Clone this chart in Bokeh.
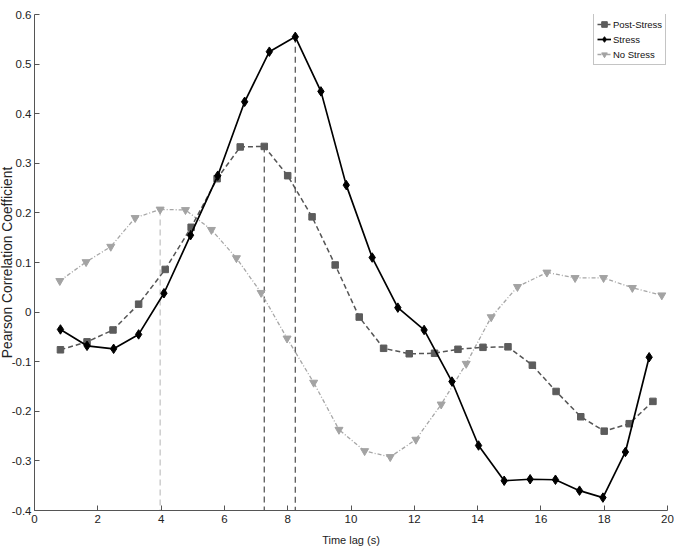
from bokeh.plotting import figure
from bokeh.models import Range1d, FixedTicker, Legend, LegendItem, ColumnDataSource
from bokeh.embed import file_html
from bokeh.resources import INLINE

# ---- data ----
post_x = [0.82, 1.66, 2.48, 3.29, 4.13, 4.95, 5.77, 6.50, 7.26, 8.00, 8.77, 9.50, 10.26,
          11.03, 11.84, 12.64, 13.38, 14.17, 14.96, 15.73, 16.48, 17.26, 18.00, 18.79, 19.54]
post_y = [-0.076, -0.060, -0.036, 0.016, 0.086, 0.171, 0.269, 0.333, 0.334, 0.275, 0.192, 0.095, -0.010,
          -0.073, -0.084, -0.083, -0.075, -0.071, -0.070, -0.107, -0.160, -0.211, -0.240, -0.225, -0.180]

stress_x = [0.82, 1.66, 2.50, 3.29, 4.09, 4.93, 5.79, 6.64, 7.42, 8.24, 9.05, 9.85,
            10.67, 11.48, 12.31, 13.19, 14.03, 14.84, 15.66, 16.46, 17.22, 17.96, 18.67, 19.42]
stress_y = [-0.035, -0.068, -0.074, -0.045, 0.038, 0.155, 0.275, 0.424, 0.525, 0.555, 0.445, 0.256,
            0.110, 0.009, -0.036, -0.140, -0.269, -0.340, -0.337, -0.338, -0.360, -0.374, -0.282, -0.091]

nostress_x = [0.80, 1.63, 2.41, 3.18, 3.97, 4.77, 5.59, 6.38, 7.16, 7.98, 8.82, 9.62,
              10.43, 11.24, 12.05, 12.85, 13.64, 14.43, 15.26, 16.19, 17.08, 17.98, 18.89, 19.82]
nostress_y = [0.063, 0.101, 0.132, 0.190, 0.207, 0.206, 0.166, 0.109, 0.039, -0.053, -0.142, -0.237,
              -0.280, -0.292, -0.257, -0.186, -0.104, -0.010, 0.051, 0.080, 0.069, 0.069, 0.049, 0.034]

# peak markers (vertical dashed lines): No Stress, Post-Stress, Stress
peak_x = [3.97, 7.26, 8.24]
peak_y = [0.207, 0.334, 0.555]
peak_colors = ["#c4c4c4", "#5a5a5a", "#5a5a5a"]

x_ticks = [0, 2, 4, 6, 8, 10, 12, 14, 16, 18, 20]
y_ticks = [-0.4, -0.3, -0.2, -0.1, 0.0, 0.1, 0.2, 0.3, 0.4, 0.5, 0.6]
y_tick_labels = ["-0.4", "-0.3", "-0.2", "-0.1", "0", "0.1", "0.2", "0.3", "0.4", "0.5", "0.6"]

X_MIN, X_MAX = 0, 20
Y_MIN, Y_MAX = -0.4, 0.6

FONT = "Liberation Sans"

p = figure(width=680, height=548, output_backend="svg", toolbar_location=None,
           x_range=Range1d(X_MIN, X_MAX), y_range=Range1d(Y_MIN, Y_MAX),
           min_border_left=40, min_border_top=14, min_border_right=7, min_border_bottom=38)
p.margin = (0, 0, 0, -6)
p.outline_line_color = None
p.background_fill_color = "white"
p.border_fill_color = "white"
p.xgrid.visible = False
p.ygrid.visible = False

for ax in (p.xaxis[0], p.yaxis[0]):
    ax.axis_line_color = "#555555"
    ax.major_tick_line_color = "#555555"
    ax.major_tick_in = 5
    ax.major_tick_out = 0
    ax.minor_tick_line_color = None
    ax.major_label_text_font = FONT
    ax.major_label_text_font_size = "11.5px"
    ax.major_label_text_color = "#222222"
    ax.axis_label_text_color = "#222222"
    ax.axis_label_text_font_style = "normal"

p.xaxis.ticker = FixedTicker(ticks=x_ticks)
p.yaxis.ticker = FixedTicker(ticks=y_ticks)
p.yaxis.major_label_overrides = {t: l for t, l in zip(y_ticks, y_tick_labels)}
p.xaxis.axis_label = "Time lag (s)"
p.xaxis.axis_label_text_font = FONT
p.xaxis.axis_label_text_font_size = "11px"
p.xaxis.major_label_standoff = 4
p.xaxis.axis_label_standoff = 8
p.yaxis.axis_label = "Pearson Correlation Coefficient"
p.yaxis.axis_label_text_font = FONT
p.yaxis.axis_label_text_font_size = "13.8px"
p.yaxis.major_label_standoff = 3
p.yaxis.axis_label_standoff = -6

# vertical dashed peak lines
vsrc = ColumnDataSource(dict(x=peak_x, y0=peak_y, y1=[Y_MIN] * len(peak_x), c=peak_colors))
p.segment(x0="x", y0="y0", x1="x", y1="y1", source=vsrc, line_color="c",
          line_dash="6 4", line_width=1.3)

# No Stress
ns_line = p.line(nostress_x, nostress_y, line_color="#a6a6a6", line_width=1.3, line_dash="4 2 1 2")
ns_mark = p.scatter(nostress_x, nostress_y, marker="inverted_triangle", size=8,
                    fill_color="#a3a3a3", line_color="#a3a3a3")
# Post-Stress
ps_line = p.line(post_x, post_y, line_color="#555555", line_width=1.5, line_dash="5 3")
ps_mark = p.scatter(post_x, post_y, marker="square", size=6.5,
                    fill_color="#5c5c5c", line_color="#5c5c5c")
# Stress
st_line = p.line(stress_x, stress_y, line_color="#000000", line_width=1.7)
st_mark = p.scatter(stress_x, stress_y, marker="diamond", size=9.5,
                    fill_color="#000000", line_color="#000000")

legend = Legend(items=[
    LegendItem(label="Post-Stress", renderers=[ps_line, ps_mark]),
    LegendItem(label="Stress", renderers=[st_line, st_mark]),
    LegendItem(label="No Stress", renderers=[ns_line, ns_mark]),
], location=(559, 445))
legend.margin = 0
legend.padding = 3
legend.spacing = 1
legend.glyph_width = 14
legend.glyph_height = 14
legend.label_height = 14
legend.label_standoff = 2
legend.label_text_font = FONT
legend.label_text_font_size = "9.5px"
legend.label_text_color = "#111111"
legend.border_line_color = "#8a8a8a"
legend.border_line_width = 1
legend.background_fill_color = "white"
legend.background_fill_alpha = 1
p.add_layout(legend, "center")

open("out.html", "w").write(file_html(p, INLINE))
